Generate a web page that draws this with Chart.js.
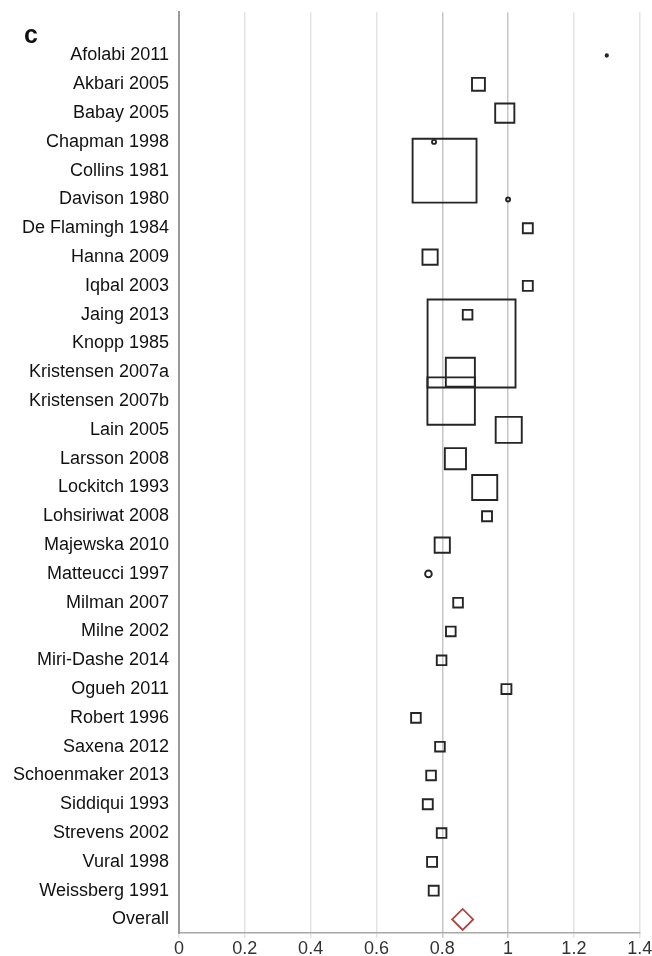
<!DOCTYPE html>
<html>
<head>
<meta charset="utf-8">
<script src="https://cdn.jsdelivr.net/npm/chart.js@4.4.0/dist/chart.umd.min.js"></script>
<style>
  html, body { margin: 0; padding: 0; background: #fff; }
  #wrap { position: relative; width: 652px; height: 956px; }
  #panel {
    position: absolute; left: 24px; top: 22px;
    font: bold 25px 'Liberation Sans', Arial, sans-serif; line-height: 25px; color: #111;
  }
</style>
</head>
<body>
<div id="wrap">
  <canvas id="chart"></canvas>
  <div id="panel">c</div>
</div>
<script>
// --- data ---
const studies = ['Afolabi 2011', 'Akbari 2005', 'Babay 2005', 'Chapman 1998', 'Collins 1981',
  'Davison 1980', 'De Flamingh 1984', 'Hanna 2009', 'Iqbal 2003', 'Jaing 2013', 'Knopp 1985',
  'Kristensen 2007a', 'Kristensen 2007b', 'Lain 2005', 'Larsson 2008', 'Lockitch 1993',
  'Lohsiriwat 2008', 'Majewska 2010', 'Matteucci 1997', 'Milman 2007', 'Milne 2002',
  'Miri-Dashe 2014', 'Ogueh 2011', 'Robert 1996', 'Saxena 2012', 'Schoenmaker 2013',
  'Siddiqui 1993', 'Strevens 2002', 'Vural 1998', 'Weissberg 1991'];
const estimates = [1.30, 0.91, 0.99, 0.775, 0.807, 1.0, 1.06, 0.763, 1.06, 0.877, 0.889,
  0.855, 0.827, 1.002, 0.84, 0.929, 0.936, 0.80, 0.758, 0.848, 0.826,
  0.798, 0.995, 0.72, 0.793, 0.766, 0.756, 0.798, 0.769, 0.774];
// study weight, shown as box width (x-axis units)
const weights = [0.013, 0.045, 0.064, 0.018, 0.200, 0.018, 0.036, 0.052, 0.036, 0.035, 0.273,
  0.094, 0.150, 0.085, 0.070, 0.082, 0.036, 0.052, 0.026, 0.035, 0.035,
  0.035, 0.036, 0.035, 0.035, 0.035, 0.036, 0.035, 0.036, 0.036];
const overallLabel = 'Overall';
const overallEstimate = 0.862;
const xTicks = [0, 0.2, 0.4, 0.6, 0.8, 1, 1.2, 1.4];

const rowLabels = studies.concat([overallLabel]);
const FONT = "'Liberation Sans', Arial, sans-serif";
const BOX_LINE = 1.9;
const TINY = 0.03;   // below this the box reads as a dot

function boxPx(ctx) {
  var xs = ctx.chart.scales.x;
  return Math.abs(xs.getPixelForValue(weights[ctx.dataIndex]) - xs.getPixelForValue(0));
}
function boxStyle(ctx) {
  return weights[ctx.dataIndex] < TINY ? 'circle' : 'rect';
}
function boxRadius(ctx) {
  var px = Math.max(boxPx(ctx) - BOX_LINE, 0.6);
  return weights[ctx.dataIndex] < TINY ? px / 2 : px / Math.SQRT2;
}

new Chart(document.getElementById('chart').getContext('2d'), {
  type: 'scatter',
  data: {
    datasets: [
      {
        data: studies.map(function(s, i) { return { x: estimates[i], y: i }; }),
        pointStyle: boxStyle,
        pointRadius: boxRadius,
        pointBorderColor: '#252525',
        pointBorderWidth: BOX_LINE,
        pointBackgroundColor: function(ctx) {
          return weights[ctx.dataIndex] < 0.015 ? '#252525' : 'rgba(255,255,255,0)';
        }
      },
      {
        data: [{ x: overallEstimate, y: studies.length }],
        pointStyle: 'rectRot',
        pointRadius: 10.5,
        pointBorderColor: '#a84545',
        pointBorderWidth: 1.8,
        pointBackgroundColor: 'rgba(255,255,255,0)'
      }
    ]
  },
  options: {
    responsive: true,
    maintainAspectRatio: false,
    animation: false,
    events: [],
    layout: { padding: { top: 10, right: 11, left: 0, bottom: 0 } },
    plugins: { legend: { display: false }, tooltip: { enabled: false } },
    scales: {
      x: {
        type: 'linear',
        min: 0,
        max: 1.4,
        afterBuildTicks: function(s) { s.ticks = xTicks.map(function(v) { return { value: v }; }); },
        afterFit: function(s) { s.height = 23; s.paddingLeft = 0; s.paddingRight = 0; },
        ticks: {
          callback: function(v) { return String(v); },
          font: { family: FONT, size: 18 },
          color: '#333',
          padding: 0,
          maxRotation: 0,
          autoSkip: false
        },
        grid: {
          color: function(ctx) {
            var v = ctx.tick ? ctx.tick.value : null;
            return (v === 0.8 || v === 1) ? '#c6c6c6' : '#e3e3e3';
          },
          lineWidth: 1.5,
          drawTicks: true,
          tickLength: 5
        },
        border: { display: true, color: '#a8a8a8', width: 1.5 }
      },
      y: {
        type: 'linear',
        reverse: true,
        min: -1.5,
        max: 30.47,
        afterBuildTicks: function(s) { s.ticks = rowLabels.map(function(_, i) { return { value: i }; }); },
        afterFit: function(s) { s.width = 179; s.paddingTop = 0; s.paddingBottom = 0; },
        ticks: {
          callback: function(v) { return rowLabels[v]; },
          font: { family: FONT, size: 18 },
          color: '#111',
          padding: 10,
          autoSkip: false
        },
        grid: { display: false, drawTicks: false },
        border: { display: true, color: '#9a9a9a', width: 2 }
      }
    }
  }
});
</script>
</body>
</html>
